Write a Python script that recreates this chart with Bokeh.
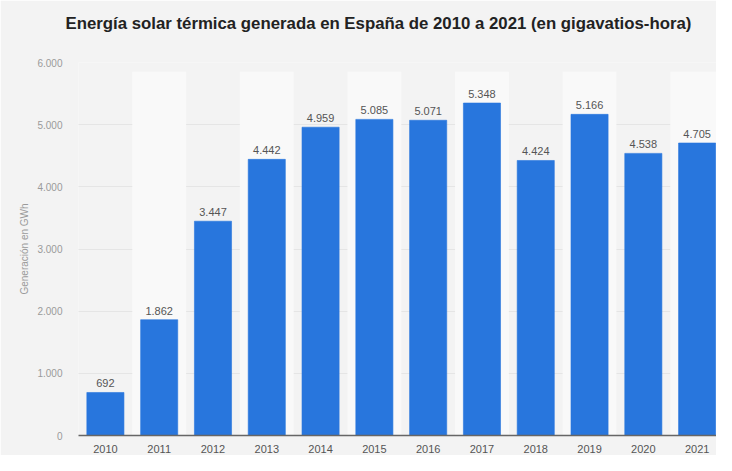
from bokeh.plotting import figure
from bokeh.models import FixedTicker, ColumnDataSource, Title
from bokeh.embed import file_html
from bokeh.resources import INLINE

years = ["2010", "2011", "2012", "2013", "2014", "2015", "2016", "2017", "2018", "2019", "2020", "2021"]
values = [692, 1862, 3447, 4442, 4959, 5085, 5071, 5348, 4424, 5166, 4538, 4705]
y_ticks = [0, 1000, 2000, 3000, 4000, 5000, 6000]
y_tick_labels = ["0", "1.000", "2.000", "3.000", "4.000", "5.000", "6.000"]

FONT = "Liberation Sans"
BG = "#f3f3f3"
BAND = "#f9f9f9"
BLUE = "#2876dd"

xs = list(range(len(years)))
labels = [f"{v:,}".replace(",", ".") for v in values]
src = ColumnDataSource(dict(x=xs, v=values, lab=labels))

band_x = [i for i in xs if i % 2 == 1]
band_src = ColumnDataSource(dict(x=band_x, top=[5850] * len(band_x)))

p = figure(width=716, height=455, output_backend="svg", toolbar_location=None,
           x_range=(-0.5, 11.36), y_range=(0, 6000),
           min_border_left=78, min_border_right=0, min_border_bottom=16, min_border_top=0)
p.title = None
# spacer between the title and the plot area
p.add_layout(Title(text=" ", text_font=FONT, text_font_size="16px", standoff=0), "above")
p.add_layout(Title(text="Energía solar térmica generada en España de 2010 a 2021 (en gigavatios-hora)",
                   text_font=FONT, text_font_size="16.8px", text_font_style="bold",
                   text_color="#222222", align="left", offset=-13, standoff=22), "above")

p.background_fill_color = BG
p.border_fill_color = BG
p.outline_line_color = None

p.vbar(x="x", top="top", bottom=0, width=1.0, source=band_src, fill_color=BAND, line_color=None)

p.ygrid.ticker = FixedTicker(ticks=y_ticks[1:])
p.ygrid.grid_line_color = "#d6d6d6"
p.ygrid.grid_line_dash = "1 1"
p.ygrid.grid_line_width = 1
p.xgrid.grid_line_color = None

p.vbar(x="x", top="v", width=0.69, source=src, fill_color=BLUE, line_color=BLUE, line_alpha=0.6)

p.text(x="x", y="v", text="lab", source=src, text_align="center", text_baseline="bottom",
       y_offset=-5, text_font={"value": FONT}, text_font_size={"value": "11px"}, text_color="#555555")

p.yaxis.ticker = FixedTicker(ticks=y_ticks)
p.yaxis.major_label_overrides = {t: l for t, l in zip(y_ticks, y_tick_labels)}
p.yaxis.axis_line_color = None
p.yaxis.major_tick_line_color = None
p.yaxis.minor_tick_line_color = None
p.yaxis.major_label_text_font = FONT
p.yaxis.major_label_text_font_size = "10px"
p.yaxis.major_label_text_color = "#9a9a9a"
p.yaxis.major_label_standoff = 10
p.yaxis.axis_label = "Generación en GWh"
p.yaxis.axis_label_text_font = FONT
p.yaxis.axis_label_text_font_size = "10px"
p.yaxis.axis_label_text_font_style = "normal"
p.yaxis.axis_label_text_color = "#9a9a9a"
p.yaxis.axis_label_standoff = 4

p.xaxis.ticker = FixedTicker(ticks=xs)
p.xaxis.major_label_overrides = {i: y for i, y in zip(xs, years)}
p.xaxis.axis_line_color = "#666666"
p.xaxis.axis_line_width = 1.5
p.xaxis.major_tick_line_color = None
p.xaxis.minor_tick_line_color = None
p.xaxis.major_label_text_font = FONT
p.xaxis.major_label_text_font_size = "11px"
p.xaxis.major_label_text_color = "#555555"
p.xaxis.major_label_standoff = 3

open("out.html", "w").write(file_html(p, INLINE))
